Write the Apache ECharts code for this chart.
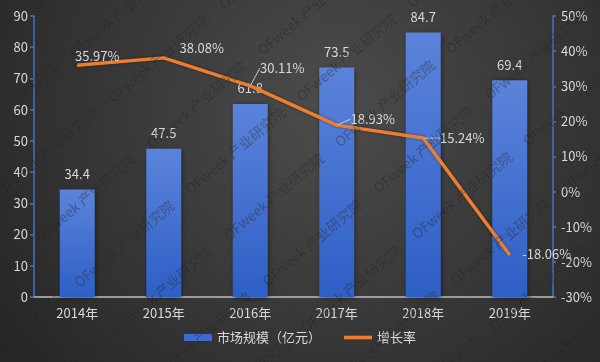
<!DOCTYPE html>
<html>
<head>
<meta charset="utf-8">
<script src="https://cdn.jsdelivr.net/npm/echarts@6/dist/echarts.min.js"></script>
<style>html,body{margin:0;padding:0;background:#333;}#c{width:600px;height:362px;}</style>
</head>
<body>
<div id="c"></div>
<script>
var categories = ['2014年', '2015年', '2016年', '2017年', '2018年', '2019年'];
var marketSize = [34.4, 47.5, 61.8, 73.5, 84.7, 69.4];
var growthRate = [35.97, 38.08, 30.11, 18.93, 15.24, -18.06];
var barName = '市场规模（亿元）';
var lineName = '增长率';
var watermarkText = 'OFweek 产业研究院';

var FONT = '"Noto Sans CJK SC", "Noto Sans", sans-serif';
var TXT = '#d9d9d9';

// label offsets for the growth-rate labels (pixel layout only)
var lineLabelShift = [[20, -9], [38, -10], [32, -18], [36, -6], [39, 0], [37, -1]];
var lineLabelGuide = [false, false, true, true, true, false];

// watermark tiling
var wm = [];
var ang = 40 * Math.PI / 180;
var dx = Math.cos(ang), dy = -Math.sin(ang);
var nx = Math.sin(ang), ny = Math.cos(ang);
for (var a = -6; a <= 6; a++) {
  for (var b = -8; b <= 8; b++) {
    var cx = 47 + a * 145 * dx + b * 60 * nx;
    var cy = 152 + a * 145 * dy + b * 60 * ny;
    if (cx > -60 && cx < 660 && cy > -50 && cy < 410) {
      wm.push({
        type: 'text', x: cx, y: cy, rotation: ang, z: 100, silent: true,
        style: { text: watermarkText, font: '14px ' + FONT, fill: 'rgba(10,10,10,0.28)',
                 stroke: 'rgba(110,110,110,0.10)', lineWidth: 1, align: 'center', verticalAlign: 'middle' }
      });
    }
  }
}

var chart = echarts.init(document.getElementById('c'), null, { renderer: 'canvas' });
chart.setOption({
  animation: false,
  backgroundColor: new echarts.graphic.RadialGradient(330, 110, 400, [
    { offset: 0, color: '#4c4c4c' },
    { offset: 1, color: '#262626' }
  ], true),
  textStyle: { fontFamily: FONT },
  grid: { left: 34, right: 47, top: 16, bottom: 65, containLabel: false },
  legend: {
    bottom: 13, left: 'center',
    itemWidth: 28, itemHeight: 7, itemGap: 23,
    textStyle: { color: TXT, fontSize: 13, fontFamily: FONT },
    data: [
      { name: barName, icon: 'rect', itemStyle: { color: '#3f6bd0', shadowBlur: 0 } },
      { name: lineName, icon: 'path://M0,0 L31,0 L31,4 L0,4 Z' }
    ]
  },
  graphic: wm,
  xAxis: {
    type: 'category', data: categories,
    axisLine: { lineStyle: { color: '#bfbfbf', width: 1.5 } },
    axisTick: { show: false },
    axisLabel: { color: TXT, fontSize: 13, margin: 10, fontFamily: FONT },
    splitLine: { show: false }
  },
  yAxis: [
    {
      type: 'value', min: 0, max: 90, interval: 10,
      axisLine: { show: true, lineStyle: { color: '#4472c4', width: 1.5 } },
      axisTick: { show: true, length: 4, lineStyle: { color: '#4472c4', width: 1.5 } },
      axisLabel: { color: TXT, fontSize: 13, margin: 6, fontFamily: FONT },
      splitLine: { show: false }
    },
    {
      type: 'value', min: -30, max: 50, interval: 10,
      axisLine: { show: true, lineStyle: { color: '#4472c4', width: 1.5 } },
      axisTick: { show: true, length: 3, lineStyle: { color: '#4472c4', width: 1.5 } },
      axisLabel: { color: TXT, fontSize: 13, margin: 8, formatter: '{value}%', fontFamily: FONT },
      splitLine: { show: false }
    }
  ],
  series: [
    {
      name: barName, type: 'bar', data: marketSize, barWidth: 35,
      itemStyle: {
        color: new echarts.graphic.LinearGradient(0, 0, 0, 1, [
          { offset: 0, color: '#5b83da' },
          { offset: 1, color: '#2e5fc6' }
        ]),
        shadowBlur: 5, shadowColor: 'rgba(0,0,0,0.5)', shadowOffsetX: 1, shadowOffsetY: 1
      },
      label: { show: true, position: 'top', distance: 9, color: TXT, fontSize: 13, fontFamily: FONT }
    },
    {
      name: lineName, type: 'line', yAxisIndex: 1,
      data: growthRate.map(function (v, i) {
        return { value: v, labelLine: { show: lineLabelGuide[i] } };
      }),
      symbol: 'circle', symbolSize: 1, showSymbol: true,
      itemStyle: { color: '#ed7d31' },
      lineStyle: { color: '#ed7d31', width: 3.5, shadowBlur: 3, shadowColor: 'rgba(0,0,0,0.4)' },
      label: {
        show: true, position: 'inside', color: TXT, fontSize: 13, fontFamily: FONT,
        formatter: function (p) { return p.value.toFixed(2) + '%'; }
      },
      labelLine: { show: true, lineStyle: { color: '#c8c8c8', width: 1 } },
      labelLayout: function (p) {
        var s = lineLabelShift[p.dataIndex];
        return { dx: s[0], dy: s[1] };
      }
    }
  ]
});
</script>
</body>
</html>
